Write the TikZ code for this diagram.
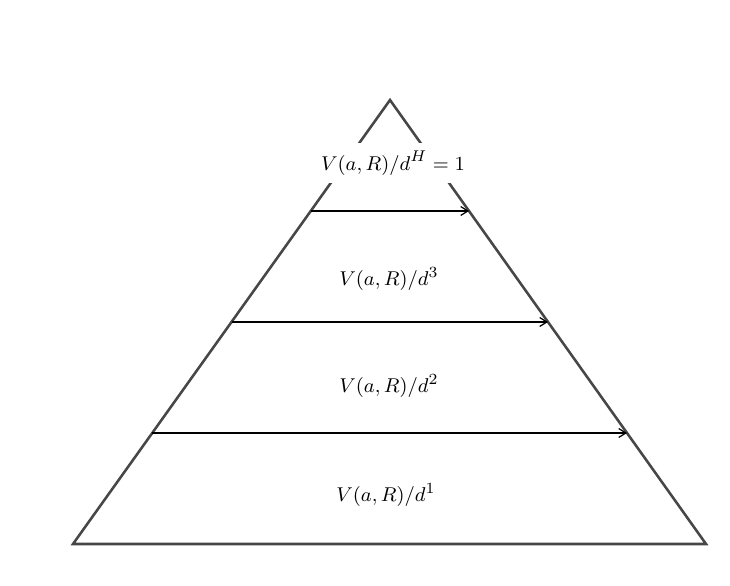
\documentclass[tikz,border=0pt]{standalone}
\usetikzlibrary{calc,arrows.meta}
\begin{document}
\begin{tikzpicture}[x=0.45pt,y=-0.45pt,
  side/.style={draw=black!72,line width=1.15pt,line join=miter},
  level/.style={draw=black,line width=0.55pt,-{Straight Barb[length=3.2pt,width=4pt]}},
  lab/.style={font=\fontsize{9.3}{11}\selectfont,text=black}]
\useasboundingbox (0,0) rectangle (730,586);
\coordinate (apex) at (390,100);
\coordinate (bl) at (73,544);
\coordinate (br) at (706,544);
\draw[side] (bl) -- (apex) -- (br) -- cycle;
% level lines
\foreach \y/\n in {211/a,322/b,433/c}{
  \coordinate (l\n) at ($(apex)!{(\y-100)/444}!(bl)$);
  \coordinate (r\n) at ($(apex)!{(\y-100)/444}!(br)$);
  \draw[level] (l\n) -- (r\n);
}
\node[lab,fill=white,inner sep=3.6pt] (t4) at (393,163) {$V(a,R)/d^H=1$};
\node[lab] (t3) at (389,279) {$V(a,R)/d^3$};
\node[lab] (t2) at (389,386) {$V(a,R)/d^2$};
\node[lab] (t1) at (386,495) {$V(a,R)/d^1$};
\end{tikzpicture}
\end{document}
